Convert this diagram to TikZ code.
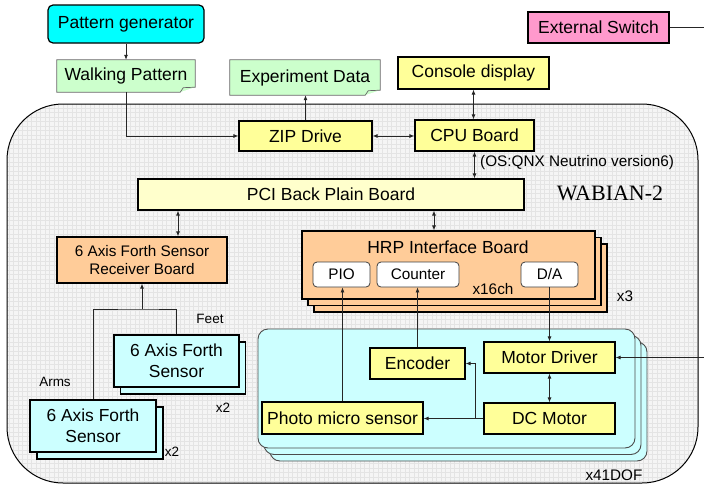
\documentclass[tikz,border=0pt]{standalone}
\usepackage{fontspec}
\setmainfont{Liberation Sans}
\newfontfamily\serifface{Liberation Serif}
\usetikzlibrary{arrows.meta}
\definecolor{genblue}{HTML}{00FFFF}
\definecolor{notegreen}{HTML}{CCFFCC}
\definecolor{boxyellow}{HTML}{FFFF99}
\definecolor{paleyellow}{HTML}{FFFFCC}
\definecolor{boardorange}{HTML}{FFCC99}
\definecolor{palecyan}{HTML}{CCFFFF}
\definecolor{switchpink}{HTML}{FF99CC}
\definecolor{panel}{HTML}{F5F5F5}
\definecolor{gridgray}{HTML}{E4E4E4}
\newcommand{\bigtxt}{\fontsize{17.5pt}{20pt}\selectfont}
\newcommand{\midtxt}{\fontsize{15.3pt}{17.7pt}\selectfont}
\newcommand{\smalltxt}{\fontsize{13.5pt}{15pt}\selectfont}
\newcommand{\sensortxt}{\fontsize{17.4pt}{21pt}\selectfont}
\newcommand{\backcopy}[4]{%
 \node[#2, xshift=#3, yshift=#4] at ({#1}) {};%
}
\newcommand{\dogear}[1]{%
 \fill[white] (#1.south east) -- ([yshift=5pt]#1.south east) -- ([xshift=-15pt]#1.south east) -- cycle;%
 \draw[noteline] (#1.south west) -- (#1.north west) -- (#1.north east) -- ([yshift=5pt]#1.south east)%
  -- ([xshift=-12pt,yshift=4.5pt]#1.south east) -- ([xshift=-15pt]#1.south east) -- cycle;%
}
\begin{document}
\begin{tikzpicture}[x=1pt, y=-1pt, >={Latex[length=5pt,width=4pt]},
  box/.style={draw=black, line width=1.2pt, inner sep=0pt, align=center, font=\bigtxt},
  notebox/.style={fill=notegreen, inner sep=0pt, font=\bigtxt},
  noteline/.style={draw=black!60, line width=0.7pt},
  port/.style={draw=black!75, fill=white, line width=0.8pt, rounded corners=4pt, inner sep=0pt, minimum width=57pt, minimum height=25pt, font=\midtxt},
  hrpbox/.style={box, fill=boardorange, minimum width=293pt, minimum height=68pt},
  dofbox/.style={draw=black!70, line width=0.9pt, fill=palecyan, rounded corners=10pt, minimum width=377pt, minimum height=119pt},
  sensorbox/.style={box, fill=palecyan, minimum width=125pt, minimum height=52pt, font=\sensortxt},
  wire/.style={draw=black!85, line width=0.8pt},
  lbl/.style={inner sep=0pt, font=\smalltxt}]
  \useasboundingbox (0,0) rectangle (704,485);
  % robot body
  \fill[panel, rounded corners=56pt] (7,104) rectangle (698,483);
  \begin{scope}
   \clip[rounded corners=56pt] (7,104) rectangle (698,483);
   \draw[gridgray, line width=0.35pt, step=4.5pt] (7pt,-483pt) grid (698pt,-104pt);
  \end{scope}
  \draw[line width=1pt, rounded corners=56pt] (7,104) rectangle (698,483);
  \node[font=\serifface\fontsize{22pt}{24pt}\selectfont, inner sep=0pt] (wabian) at (610,193) {WABIAN-2};
  % outside
  \node[box, fill=genblue, rounded corners=5pt, minimum width=156pt, minimum height=38pt] (pgen) at (126,24) {Pattern generator};
  \node[notebox, minimum width=138pt, minimum height=32pt] (walk) at (126,76) {Walking Pattern};
  \dogear{walk}
  \node[notebox, minimum width=150pt, minimum height=35pt] (expdata) at (305,77.5) {Experiment Data};
  \dogear{expdata}
  \node[box, fill=boxyellow, minimum width=151pt, minimum height=32pt] (console) at (473.5,73) {Console display};
  \node[box, fill=switchpink, minimum width=141pt, minimum height=31pt] (extsw) at (598.5,27.5) {External Switch};
  % boards
  \node[box, fill=boxyellow, minimum width=133pt, minimum height=30pt] (zip) at (305.5,136) {ZIP Drive};
  \node[box, fill=boxyellow, minimum width=119pt, minimum height=31pt] (cpu) at (474.5,135.5) {CPU Board};
  \node[anchor=west, inner sep=0pt, font=\midtxt] (osnote) at (480,163) {(OS:QNX Neutrino version6)};
  \node[box, fill=paleyellow, minimum width=386pt, minimum height=31pt] (pci) at (331,194.5) {PCI Back Plain Board};
  \node[box, fill=boardorange, minimum width=170pt, minimum height=46pt, font=\midtxt] (recv) at (142,260) {6 Axis Forth Sensor\\Receiver Board};
  \backcopy{448.5,265}{hrpbox}{12pt}{-13pt}
  \backcopy{448.5,265}{hrpbox}{6pt}{-6.5pt}
  \node[hrpbox] (hrp) at (448.5,265) {};
  \node[inner sep=0pt, font=\bigtxt] (hrptitle) at (448,247) {HRP Interface Board};
  \node[port] (pio) at (341.5,274.5) {PIO};
  \node[port, minimum width=82pt] (counter) at (418,274.5) {Counter};
  \node[port] (da) at (549.5,274.5) {D/A};
  \node[lbl, font=\midtxt] (ch16) at (493,289) {x16ch};
  \node[lbl, font=\midtxt] (hrpx3) at (625,296) {x3};
  % joints
  \backcopy{446.5,388.5}{dofbox}{12pt}{-13pt}
  \backcopy{446.5,388.5}{dofbox}{6pt}{-6.5pt}
  \node[dofbox] (dof) at (446.5,388.5) {};
  \node[box, fill=boxyellow, minimum width=95pt, minimum height=31pt] (encoder) at (417.5,363.5) {Encoder};
  \node[box, fill=boxyellow, minimum width=131pt, minimum height=31pt] (motordrv) at (549.5,357.5) {Motor Driver};
  \node[box, fill=boxyellow, minimum width=131pt, minimum height=31pt] (dcmotor) at (549.5,418.5) {DC Motor};
  \node[box, fill=boxyellow, minimum width=161pt, minimum height=32pt] (photo) at (342.5,418) {Photo micro sensor};
  \node[lbl, font=\midtxt] (dof41) at (614,475) {x41DOF};
  % force sensors
  \backcopy{176.5,361}{sensorbox}{6.5pt}{-7pt}
  \node[sensorbox] (feet) at (176.5,361) {6 Axis Forth\\Sensor};
  \backcopy{93,426}{sensorbox, minimum width=126pt}{7pt}{-7pt}
  \node[sensorbox, minimum width=126pt] (arms) at (93,426) {6 Axis Forth\\Sensor};
  \node[lbl] (feetlbl) at (210,319) {Feet};
  \node[lbl] (armslbl) at (55,382) {Arms};
  \node[lbl] (feetx2) at (223,408) {x2};
  \node[lbl] (armsx2) at (172,452) {x2};
  % wires
  \draw[wire, ->] (pgen) -- (walk);
  \draw[wire, ->] (walk.south) |- (zip.west);
  \draw[wire, ->] (zip.north) -- (zip.north |- expdata.south);
  \draw[wire, <->] (zip.east) -- (zip.east -| cpu.west);
  \draw[wire, <->] (console.south) -- (console.south |- cpu.north);
  \draw[wire, <->] (cpu.south) -- (cpu.south |- pci.north);
  \draw[wire, <->] ([xshift=36pt]recv.north) -- ([xshift=36pt]recv.north |- pci.south);
  \draw[wire, <->] ([xshift=-14.5pt]hrp.north) -- ([xshift=-14.5pt]hrp.north |- pci.south);
  \coordinate (tj) at (142,309);
  \draw[wire] (arms.north) |- (tj) -| (feet.north);
  \draw[wire, ->] (tj) -- (recv.south);
  \draw[wire, ->] (photo.north) -- (photo.north |- pio.south);
  \draw[wire, ->] (encoder.north) -- (encoder.north |- counter.south);
  \draw[wire, ->] (da.south) -- (da.south |- motordrv.north);
  \draw[wire, <->] (motordrv.south) -- (dcmotor.north);
  \draw[wire, ->] (dcmotor.west) -- (dcmotor.west -| photo.east);
  \coordinate (br) at (475,418.5);
  \draw[wire, ->] (br) |- (encoder.east);
  \coordinate (swout) at (704,27.5);
  \draw[wire] (extsw.east) -- (swout);
  \coordinate (swin) at (704,357.5);
  \draw[wire, ->] (swin) -- (motordrv.east);
\end{tikzpicture}
\end{document}
